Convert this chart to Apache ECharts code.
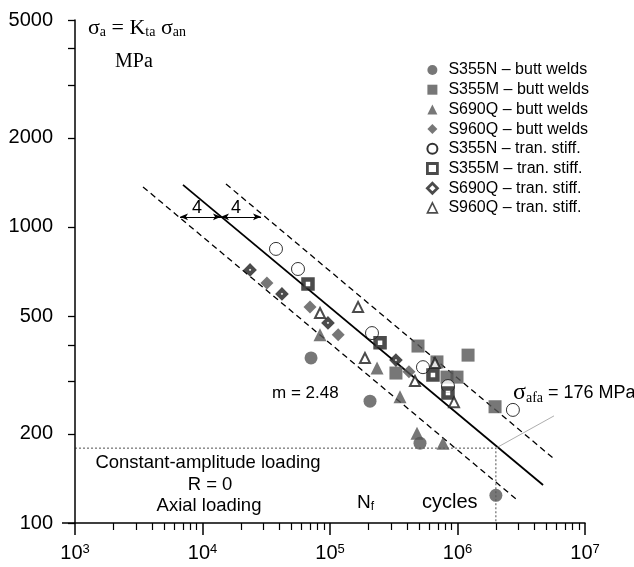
<!DOCTYPE html>
<html><head><meta charset="utf-8">
<script src="https://cdn.jsdelivr.net/npm/echarts@6/dist/echarts.min.js"></script>
<style>html,body{margin:0;padding:0;background:#fff}#c{width:634px;height:567px}</style>
</head><body><div id="c"></div>
<script>
// ---- data (N cycles, stress amplitude MPa) ----
const s355nButt  = [[71000,361],[206000,258],[508000,186],[2000000,124]];
const s355mButt  = [[490000,396],[1210000,369],[329000,321],[690000,350],[827000,311],[991000,311],[1970000,247]];
const s690qButt  = [[83500,432],[234000,334],[354000,267],[481000,201],[770000,186]];
const s960qButt  = [[32000,647],[69700,537],[116000,432],[416000,324]];
const s355nStiff = [[37700,843],[56100,721],[213500,438],[536000,336],[842000,290],[2720000,241]];
const s355mStiff = [[67200,642],[247000,406],[642000,316],[842000,275]];
const s690qStiff = [[23600,716],[42000,594],[96400,474],[329000,355]];
const s960qStiff = [[83500,512],[166000,537],[188000,361],[464000,302],[666000,347],[939000,256]];

const meanLine   = [[7030,1387],[4690000,134.4]];
const lowerBand  = [[3415,1365],[2880000,120.5]];
const upperBand  = [[15280,1397],[5610000,165.8]];
const caflLines  = [[1000,179],[2000000,179],[2000000,100]];
const caflPointer= [[2000000,179],[5710000,230]];
const bandArrowY = 1082;
const bandArrowX = [6660, 13960, 28770];

const xTickValues = [1e3,1e4,1e5,1e6,1e7];
const yTickLabels = [100,200,500,1000,2000,5000];
const yMinorTicks = [300,400,3000,4000];
const xMinorTicks = [];
for (let d = 1e3; d < 1e7; d *= 10) for (let k = 2; k <= 9; k++) xMinorTicks.push(k * d);

const legendNames = ['S355N – butt welds','S355M – butt welds','S690Q – butt welds','S960Q – butt welds',
                     'S355N – tran. stiff.','S355M – tran. stiff.','S690Q – tran. stiff.','S960Q – tran. stiff.'];

const SANS = '"Liberation Sans", Arial, Helvetica, sans-serif';
const SERIF = '"Liberation Serif", "Times New Roman", serif';
const GRAY = '#555555';
const DARK = '#1e1e1e';

const chart = echarts.init(document.getElementById('c'), null, {renderer:'canvas'});

function scatter(name, data, symbol, size, style) {
  return {type:'scatter', name, data, symbol, symbolSize:size, z:3,
          itemStyle:style, emphasis:{disabled:true}};
}
function line(data, style) {
  return {type:'line', data, showSymbol:false, symbol:'none', z:1, silent:true,
          lineStyle:style, emphasis:{disabled:true}};
}

const series = [
  line(meanLine, {color:'#000', width:1.8, type:'solid'}),
  line(lowerBand, {color:'#000', width:1.3, type:[6,4]}),
  line(upperBand, {color:'#000', width:1.3, type:[6,4]}),
  line(caflLines, {color:'#222', width:0.8, type:[2,2]}),
  line(caflPointer, {color:'#999', width:0.8, type:'solid'}),
  scatter(legendNames[0], s355nButt, 'circle', 13, {color:GRAY}),
  scatter(legendNames[1], s355mButt, 'rect', 13, {color:GRAY}),
  scatter(legendNames[2], s690qButt, 'triangle', 13, {color:GRAY}),
  scatter(legendNames[3], s960qButt, 'diamond', 13, {color:GRAY}),
  scatter(legendNames[4], s355nStiff, 'circle', 13, {color:'#fff', borderColor:'#000', borderWidth:1}),
  scatter(legendNames[5], s355mStiff, 'rect', 9, {color:'#fff', borderColor:DARK, borderWidth:4.5}),
  scatter(legendNames[6], s690qStiff, 'diamond', 8, {color:'#fff', borderColor:DARK, borderWidth:4}),
  scatter(legendNames[7], s960qStiff, 'triangle', 10, {color:'#fff', borderColor:DARK, borderWidth:2})
];
series[0].markLine = {
  silent:true, symbol:['arrow','arrow'], symbolSize:[5,8], animation:false,
  label:{show:false}, lineStyle:{color:'#000', width:1, type:'solid'},
  data:[
    [{coord:[bandArrowX[0], bandArrowY]}, {coord:[bandArrowX[1], bandArrowY]}],
    [{coord:[bandArrowX[1], bandArrowY]}, {coord:[bandArrowX[2], bandArrowY]}]
  ]
};

const legendData = legendNames.map((n, i) => {
  const o = {name:n};
  if (i === 5) o.itemStyle = {borderWidth:2.8};
  if (i === 6) o.itemStyle = {borderWidth:2.8};
  if (i === 7) o.itemStyle = {borderWidth:1.6};
  return o;
});

const option = {
  animation:false,
  backgroundColor:'#fff',
  textStyle:{fontFamily:SANS},
  grid:{left:75, right:49, top:20, bottom:44, containLabel:false},
  legend:{orient:'vertical', left:421, top:57, padding:5, itemWidth:10, itemHeight:10, itemGap:3.7,
          selectedMode:false, data:legendData,
          textStyle:{fontFamily:SANS, fontSize:16, color:'#000', lineHeight:16, padding:[0,0,0,6]}},
  xAxis:[
    {type:'log', logBase:10, min:1e3, max:1e7, position:'bottom',
     axisLine:{onZero:false, lineStyle:{color:'#000', width:1.5}},
     axisTick:{inside:false, length:12, customValues:xTickValues, lineStyle:{color:'#000', width:1.5}},
     axisLabel:{customValues:xTickValues, margin:20, color:'#000', fontFamily:SANS, fontSize:20,
       formatter:v => '10{sup|' + Math.round(Math.log10(v)) + '}',
       rich:{sup:{fontFamily:SANS, fontSize:13, color:'#000', verticalAlign:'top', lineHeight:10}}},
     splitLine:{show:false}, minorTick:{show:false}},
    {type:'log', logBase:10, min:1e3, max:1e7, position:'bottom',
     axisLine:{show:false, onZero:false},
     axisTick:{inside:false, length:7, customValues:xMinorTicks, lineStyle:{color:'#000', width:1.2}},
     axisLabel:{show:false}, splitLine:{show:false}}
  ],
  yAxis:[
    {type:'log', logBase:10, min:100, max:5000, position:'left',
     axisLine:{show:true, onZero:false, lineStyle:{color:'#000', width:1.5}},
     axisTick:{show:true, inside:false, length:7, customValues:yTickLabels.concat(yMinorTicks), lineStyle:{color:'#000', width:1.3}},
     axisLabel:{customValues:yTickLabels, margin:22, color:'#000', fontFamily:SANS, fontSize:20,
       formatter:v => String(Math.round(v))},
     splitLine:{show:false}, minorTick:{show:false}},
    {type:'log', logBase:10, min:100, max:5000, position:'left',
     axisLine:{show:false, onZero:false},
     axisTick:{show:true, inside:false, length:13, customValues:[100], lineStyle:{color:'#000', width:1.5}},
     axisLabel:{show:false}, splitLine:{show:false}}
  ],
  series:series,
  graphic:[
    {type:'text', x:88, y:28, style:{
      text:'{b|σ}{s|a}{b| = K}{s|ta}{b| σ}{s|an}', align:'left', verticalAlign:'middle', fill:'#000',
      rich:{b:{fontFamily:SERIF, fontSize:22, fill:'#000'},
            s:{fontFamily:SERIF, fontSize:14, fill:'#000', verticalAlign:'bottom', lineHeight:9}}}},
    {type:'text', x:115, y:62, style:{text:'MPa', font:'20px ' + SERIF, fill:'#000', align:'left', verticalAlign:'middle'}},
    {type:'text', x:197, y:208, style:{text:'4', font:'18px ' + SANS, fill:'#000', align:'center', verticalAlign:'middle'}},
    {type:'text', x:236, y:208, style:{text:'4', font:'18px ' + SANS, fill:'#000', align:'center', verticalAlign:'middle'}},
    {type:'text', x:272, y:393, style:{text:'m = 2.48', font:'17px ' + SANS, fill:'#000', align:'left', verticalAlign:'middle'}},
    {type:'text', x:513, y:393, style:{
      text:'{g|σ}{s|afa}{t| = 176 MPa}', align:'left', verticalAlign:'middle', fill:'#000',
      rich:{g:{fontFamily:SERIF, fontSize:24, fill:'#000'},
            s:{fontFamily:SERIF, fontSize:14, fill:'#000', verticalAlign:'bottom', lineHeight:10},
            t:{fontFamily:SANS, fontSize:18, fill:'#000'}}}},
    {type:'text', x:208, y:463, style:{text:'Constant-amplitude loading', font:'18.5px ' + SANS, fill:'#000', align:'center', verticalAlign:'middle'}},
    {type:'text', x:210, y:485, style:{text:'R = 0', font:'18.5px ' + SANS, fill:'#000', align:'center', verticalAlign:'middle'}},
    {type:'text', x:209, y:506, style:{text:'Axial loading', font:'18.5px ' + SANS, fill:'#000', align:'center', verticalAlign:'middle'}},
    {type:'text', x:357, y:503, style:{
      text:'{n|N}{s|f}', align:'left', verticalAlign:'middle', fill:'#000',
      rich:{n:{fontFamily:SANS, fontSize:19, fill:'#000'},
            s:{fontFamily:SANS, fontSize:12, fill:'#000', verticalAlign:'bottom', lineHeight:8}}}},
    {type:'text', x:422, y:502, style:{text:'cycles', font:'20px ' + SANS, fill:'#000', align:'left', verticalAlign:'middle'}}
  ]
};
chart.setOption(option);
</script>
</body></html>
